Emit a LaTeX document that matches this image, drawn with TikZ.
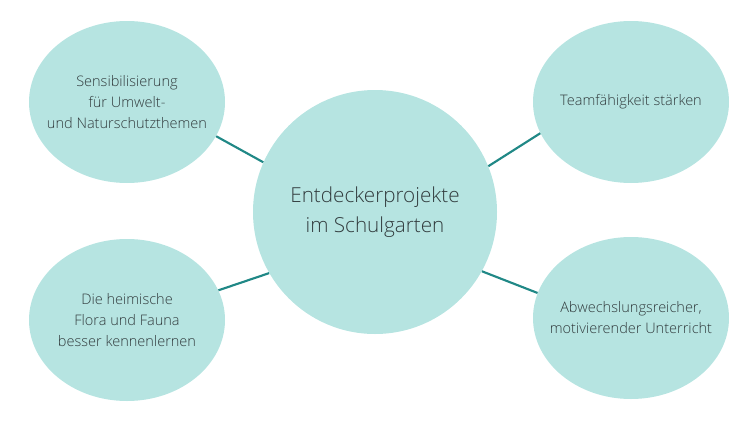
\documentclass[tikz,border=0pt]{standalone}
\usepackage{fontspec}
\setmainfont{Open Sans}[UprightFont=* Light]
\usepackage{xcolor}
\usepackage{tikz}
\usetikzlibrary{shapes.geometric}
\definecolor{bubblefill}{RGB}{182,228,225}
\definecolor{linkteal}{RGB}{32,136,134}
\definecolor{textgray}{RGB}{50,60,62}

\tikzset{
  bubble/.style={ellipse, fill=bubblefill, text=textgray, align=center,
    minimum width=147pt, minimum height=121.5pt, inner xsep=-16pt, inner ysep=0pt,
    font=\fontsize{10.9}{15.8}\selectfont},
  hub/.style={circle, fill=bubblefill, text=textgray, align=center,
    minimum size=183pt, inner sep=0pt, font=\fontsize{15.5}{22.5}\selectfont},
  link/.style={draw=linkteal, line width=1.6pt}
}

\begin{document}
\begin{tikzpicture}[x=0.75pt, y=-0.75pt]
\useasboundingbox (0,0) rectangle (750,422);
% --- centre ---
\node[hub] (hub) at (375,212) {Entdeckerprojekte\\ im Schulgarten};
% --- four goals ---
\node[bubble] (umwelt) at (127,102) {Sensibilisierung\\ für Umwelt-\\und Naturschutzthemen};
\node[bubble] (team) at (631,102) {Teamfähigkeit stärken};
\node[bubble] (fauna) at (127,320) {Die heimische\\ Flora und Fauna\\besser kennenlernen};
\node[bubble] (unterricht) at (631,318) {Abwechslungsreicher,\\motivierender Unterricht};
% connectors
\draw[link] (hub.156) -- (umwelt.-21);
\draw[link] (hub.22) -- (team.199);
\draw[link] (hub.210) -- (fauna.18);
\draw[link] (hub.-29) -- (unterricht.165);
\end{tikzpicture}
\end{document}
